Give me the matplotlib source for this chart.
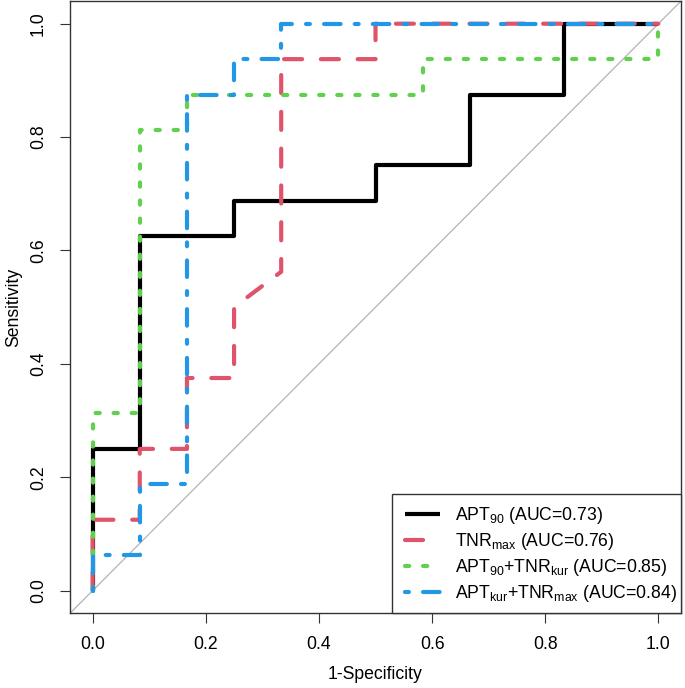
import matplotlib
matplotlib.use("Agg")
import matplotlib.pyplot as plt
from matplotlib.patches import Rectangle

plt.rcParams['font.family'] = ['Liberation Sans', 'DejaVu Sans']
plt.rcParams['mathtext.default'] = 'regular'
plt.rcParams['lines.scale_dashes'] = False

# ROC curve points (1-specificity, sensitivity)
apt90_fpr = [0, 0, 0.0833, 0.0833, 0.25, 0.25, 0.5, 0.5, 0.6667, 0.6667, 0.8333, 0.8333, 1.0]
apt90_tpr = [0, 0.25, 0.25, 0.625, 0.625, 0.6875, 0.6875, 0.75, 0.75, 0.875, 0.875, 1.0, 1.0]

tnr_fpr = [0, 0, 0.0833, 0.0833, 0.1667, 0.1667, 0.25, 0.25, 0.3333, 0.3333, 0.5, 0.5, 1.0]
tnr_tpr = [0, 0.125, 0.125, 0.25, 0.25, 0.375, 0.375, 0.5, 0.5625, 0.9375, 0.9375, 1.0, 1.0]

combo1_fpr = [0, 0, 0.0833, 0.0833, 0.1667, 0.1667, 0.5833, 0.5833, 1.0, 1.0]
combo1_tpr = [0, 0.3125, 0.3125, 0.8125, 0.8125, 0.875, 0.875, 0.9375, 0.9375, 1.0]

combo2_fpr = [0, 0, 0.0833, 0.0833, 0.1667, 0.1667, 0.25, 0.25, 0.3333, 0.3333, 1.0]
combo2_tpr = [0, 0.0625, 0.0625, 0.1875, 0.1875, 0.875, 0.875, 0.9375, 0.9375, 1.0, 1.0]

labels = [r'APT$_{90}$ (AUC=0.73)',
          r'TNR$_{max}$ (AUC=0.76)',
          r'APT$_{90}$+TNR$_{kur}$ (AUC=0.85)',
          r'APT$_{kur}$+TNR$_{max}$ (AUC=0.84)']
colors = ['#000000', '#DF536B', '#61D04F', '#2297E6']
dashes = [None, (13, 13.5), (3, 10), (2.8, 10.2, 11.9, 10.2)]

fig = plt.figure(figsize=(6.85, 6.88), dpi=100)
ax = fig.add_axes([0.1022, 0.1086, 0.892, 0.8899])

ax.axline((0, 0), (1, 1), color='#b3b3b3', lw=0.9, zorder=1)

curves = [(apt90_fpr, apt90_tpr), (tnr_fpr, tnr_tpr),
          (combo1_fpr, combo1_tpr), (combo2_fpr, combo2_tpr)]
for (x, y), lab, c, d in zip(curves, labels, colors, dashes):
    line, = ax.plot(x, y, color=c, lw=3, label=lab,
                    solid_capstyle='butt', dash_capstyle='round', zorder=2)
    if d is not None:
        line.set_dashes(d)

fs = 12.7
ax.set_xlim(-0.04, 1.04)
ax.set_ylim(-0.04, 1.04)
ticks = [0.0, 0.2, 0.4, 0.6, 0.8, 1.0]
ax.set_xticks(ticks)
ax.set_yticks(ticks)
ax.set_xticklabels([f'{t:.1f}' for t in ticks])
ax.set_yticklabels([f'{t:.1f}' for t in ticks], rotation=90, va='center')
ax.tick_params(direction='out', length=7.5, width=0.8, labelsize=fs, color='#333333')
ax.tick_params(axis='x', pad=9)
ax.tick_params(axis='y', pad=9)
for s in ax.spines.values():
    s.set_linewidth(1.0)
    s.set_color('#333333')

ax.set_xlabel('1-Specificity', fontsize=fs, labelpad=9)
ax.set_ylabel('Sensitivity', fontsize=fs, labelpad=6)

# legend box drawn by hand (R style: tight on the right)
ax.add_patch(Rectangle((0.527, 0), 0.473, 0.195, transform=ax.transAxes,
                       facecolor='white', edgecolor='#333333', lw=1.0,
                       zorder=4, clip_on=False))
leg = ax.legend(loc='center left', bbox_to_anchor=(0.548, 0.096),
                fontsize=fs, frameon=False, borderpad=0, borderaxespad=0,
                handlelength=2.0, handletextpad=0.85, labelspacing=0.28)
leg.set_zorder(5)

fig.savefig('out.png', dpi=100)
